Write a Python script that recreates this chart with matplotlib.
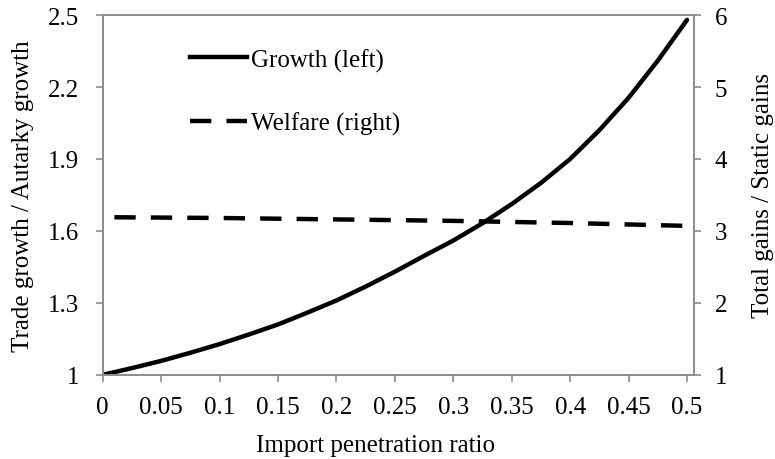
import matplotlib.pyplot as plt
from matplotlib.lines import Line2D

# ------------- Data ------------- #
ratio = [0, 0.025, 0.05, 0.075, 0.1, 0.125, 0.15, 0.175, 0.2, 0.225, 0.25,
         0.275, 0.3, 0.325, 0.35, 0.375, 0.4, 0.425, 0.45, 0.475, 0.5]
growth = [1.0, 1.028, 1.058, 1.092, 1.128, 1.168, 1.21, 1.259, 1.31, 1.368, 1.43,
          1.496, 1.56, 1.632, 1.712, 1.80, 1.90, 2.02, 2.155, 2.31, 2.48]

w_ratio = [0.01, 0.1, 0.2, 0.3, 0.4, 0.5]
welfare = [3.19, 3.18, 3.16, 3.14, 3.11, 3.07]

xticks = [0, 0.05, 0.1, 0.15, 0.2, 0.25, 0.3, 0.35, 0.4, 0.45, 0.5]
xtick_labels = ['0', '0.05', '0.1', '0.15', '0.2', '0.25', '0.3', '0.35', '0.4', '0.45', '0.5']
lticks = [1, 1.3, 1.6, 1.9, 2.2, 2.5]
ltick_labels = ['1', '1.3', '1.6', '1.9', '2.2', '2.5']
rticks = [1, 2, 3, 4, 5, 6]

# ------------- Plot Setup ------------- #
plt.rcParams['font.family'] = ['Liberation Serif', 'DejaVu Serif']
fs = 18
grey = '#8c8c8c'
dash = (4.8, 3.4)

fig = plt.figure(figsize=(7.75, 4.6), dpi=100)
ax = fig.add_axes([0.1325, 0.183, 0.763, 0.782])
ax2 = ax.twinx()

ax.plot(ratio, growth, color='black', linewidth=3.2, solid_capstyle='round')
ax2.plot(w_ratio, welfare, color='black', linewidth=3.2, dashes=dash)

ax.set_xlim(0, 0.506)
ax.set_ylim(1, 2.5)
ax2.set_ylim(1, 6)

ax.set_xticks(xticks)
ax.set_xticklabels(xtick_labels)
ax.set_yticks(lticks)
ax.set_yticklabels(ltick_labels)
ax2.set_yticks(rticks)

for a in (ax, ax2):
    for s in a.spines.values():
        s.set_color(grey)
        s.set_linewidth(1.2)
    a.tick_params(direction='out', length=5, width=1.2, color=grey,
                  labelsize=fs)
ax.tick_params(axis='x', pad=10)
ax.tick_params(axis='y', pad=12)
ax2.tick_params(axis='y', pad=10)

ax.set_xlabel('Import penetration ratio', fontsize=fs, labelpad=12, x=0.461)
ax.set_ylabel('Trade growth / Autarky growth', fontsize=fs, labelpad=10)
ax2.set_ylabel('Total gains / Static gains', fontsize=fs, labelpad=18)

handles = [Line2D([], [], color='black', linewidth=3.2),
           Line2D([], [], color='black', linewidth=3.2, dashes=dash)]
ax.legend(handles, ['Growth (left)', 'Welfare (right)'], loc='upper left',
          bbox_to_anchor=(0.147, 0.908), frameon=False, fontsize=fs,
          handlelength=2.3, handletextpad=0.15, labelspacing=1.6,
          borderaxespad=0, borderpad=0)

fig.savefig('out.png', dpi=100)
